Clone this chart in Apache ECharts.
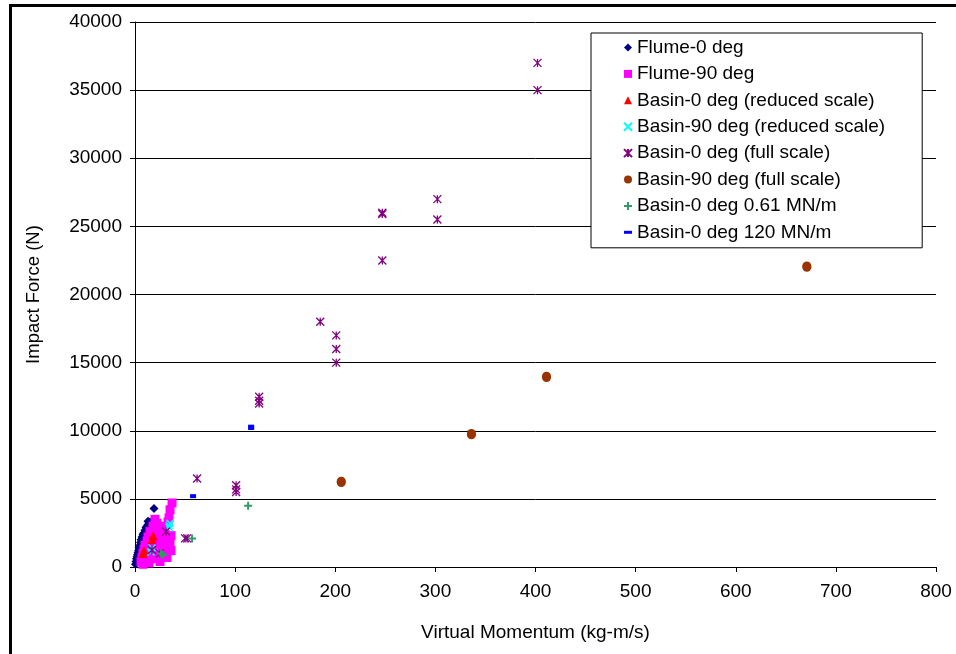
<!DOCTYPE html>
<html>
<head>
<meta charset="utf-8">
<script src="https://cdn.jsdelivr.net/npm/echarts@6/dist/echarts.min.js"></script>
<style>
html,body{margin:0;padding:0;background:#fff;}
#chart{width:956px;height:654px;}
</style>
</head>
<body>
<div id="chart"></div>
<script>
// ---- data ----
var xTicks = [0, 100, 200, 300, 400, 500, 600, 700, 800];
var yTicks = [0, 5000, 10000, 15000, 20000, 25000, 30000, 35000, 40000];

var flume0 = [[0.5,200],[1,400],[1.5,600],[2,750],[2.5,900],[3,1050],[3.5,1200],[4,1400],[5,1600],[5.5,1800],[6,2000],[7,2200],[8,2400],[9,2500],[10,2700],[11,2900],[12,3000],[13,3100],[14,3200],[15,3300],[13,3350],[19,4300],[4,900],[7,1500],[10,2100],[3,600]];
var flume90 = [[37,4700],[35,4200],[34,3600],[33,3300],[20,3500],[22,3200],[18,3000],[25,3000],[28,2700],[30,2400],[31,2000],[26,2200],[23,2500],[15,2600],[13,2200],[12,1900],[10,1600],[9,1300],[8,1000],[7,700],[6,400],[8,200],[12,500],[15,800],[18,1100],[20,600],[24,900],[27,1300],[22,1700],[17,1600],[30,1000],[32,700],[33,1400],[35,1800],[14,300],[20,2000],[28,1800],[36,1200],[36,2300],[25,400]];
var basin0Reduced = [[8,1000],[9,1200],[17,2000],[18,2300]];
var basin90Reduced = [[16,1100],[17,1400],[34,2900],[35,3200],[34,3050]];
var basin0Full = [[402,37000],[402,35000],[247,26000],[247,25900],[247,22500],[302,27000],[302,25500],[185,18000],[201,17000],[201,16000],[201,15000],[124,12500],[124,12200],[124,12000],[62,6500],[101,6000],[101,5700],[101,5500],[50,2100],[52,2100],[31,2600],[25,1000],[17,1250]];
var basin90Full = [[206,6300],[206,6200],[336,9800],[336,9700],[411,14000],[411,13900],[671,22000],[671,22100]];
var basin0_061 = [[113,4500],[57,2100],[28,900],[26,1000]];
var basin0_120 = [[116,10200],[116,10300],[58,5200]];

var seriesNames = ['Flume-0 deg','Flume-90 deg','Basin-0 deg (reduced scale)','Basin-90 deg (reduced scale)','Basin-0 deg (full scale)','Basin-90 deg (full scale)','Basin-0 deg 0.61 MN/m','Basin-0 deg 120 MN/m'];

// ---- chart ----
var chart = echarts.init(document.getElementById('chart'));
var font = '"Liberation Sans", Arial, sans-serif';
var X_PATH = 'path://M0,0L10,10M10,0L0,10';
var STAR_PATH = 'path://M0,0L10,10M10,0L0,10M5,0L5,10';
var PLUS_PATH = 'path://M5,0L5,10M0,5L10,5';
var DASH_PATH = 'path://M0,0L8,0L8,3L0,3Z';

function sc(name, data, symbol, size, color, stroke) {
  var s = {
    name: name, type: 'scatter', data: data, symbol: symbol, symbolSize: size,
    itemStyle: { color: color, opacity: 1 },
    emphasis: { disabled: true },
    animation: false
  };
  if (stroke) {
    s.itemStyle = { color: 'rgba(0,0,0,0)', borderColor: color, borderWidth: stroke, opacity: 1 };
  }
  return s;
}

var legendData = seriesNames.map(function (n, i) {
  return i === 7 ? { name: n, icon: DASH_PATH } : { name: n };
});

var option = {
  backgroundColor: '#fff',
  animation: false,
  grid: { left: 135, right: 20, top: 22, bottom: 87, containLabel: false },
  xAxis: {
    type: 'value', min: 0, max: 800, interval: 100,
    name: 'Virtual Momentum (kg-m/s)', nameLocation: 'middle', nameGap: 56,
    nameTextStyle: { fontFamily: font, fontSize: 19, color: '#000' },
    axisLine: { show: true, lineStyle: { color: '#000', width: 1 } },
    axisTick: { show: true, inside: false, length: 5, lineStyle: { color: '#000' } },
    axisLabel: { fontFamily: font, fontSize: 19, color: '#000', margin: 15 },
    splitLine: { show: false }
  },
  yAxis: {
    type: 'value', min: 0, max: 40000, interval: 5000,
    name: 'Impact Force (N)', nameLocation: 'middle', nameGap: 92,
    nameTextStyle: { fontFamily: font, fontSize: 18.5, color: '#000' },
    axisLine: { show: true, lineStyle: { color: '#000', width: 1 } },
    axisTick: { show: true, inside: false, length: 5, lineStyle: { color: '#000' } },
    axisLabel: { fontFamily: font, fontSize: 19, color: '#000', margin: 13,
      formatter: function (v) { return String(v); } },
    splitLine: { show: true, lineStyle: { color: '#000', width: 1 } }
  },
  legend: {
    orient: 'vertical', left: 591, top: 33,
    backgroundColor: '#fff', borderColor: '#000', borderWidth: 1,
    padding: [5, 37, 6, 32],
    itemWidth: 8, itemHeight: 8, itemGap: 7.4,
    textStyle: { fontFamily: font, fontSize: 19, color: '#000', lineHeight: 19 },
    data: legendData,
    selectedMode: false
  },
  series: [
    sc(seriesNames[0], flume0, 'diamond', 9, '#000080'),
    sc(seriesNames[1], flume90, 'rect', 9, '#FF00FF'),
    sc(seriesNames[2], basin0Reduced, 'triangle', 9, '#FF0000'),
    sc(seriesNames[3], basin90Reduced, X_PATH, 7, '#00FFFF', 1.5),
    sc(seriesNames[4], basin0Full, STAR_PATH, 8, '#800080', 1.3),
    sc(seriesNames[5], basin90Full, 'circle', 9, '#993300'),
    sc(seriesNames[6], basin0_061, PLUS_PATH, 8, '#339966', 2),
    sc(seriesNames[7], basin0_120, 'rect', [6, 4], '#0000FF')
  ],
  graphic: [
    { type: 'rect', left: 10, top: 4, shape: { width: 946, height: 3 }, style: { fill: '#000' }, silent: true },
    { type: 'rect', left: 9, top: 4, shape: { width: 3, height: 650 }, style: { fill: '#000' }, silent: true }
  ]
};
chart.setOption(option);
</script>
</body>
</html>
